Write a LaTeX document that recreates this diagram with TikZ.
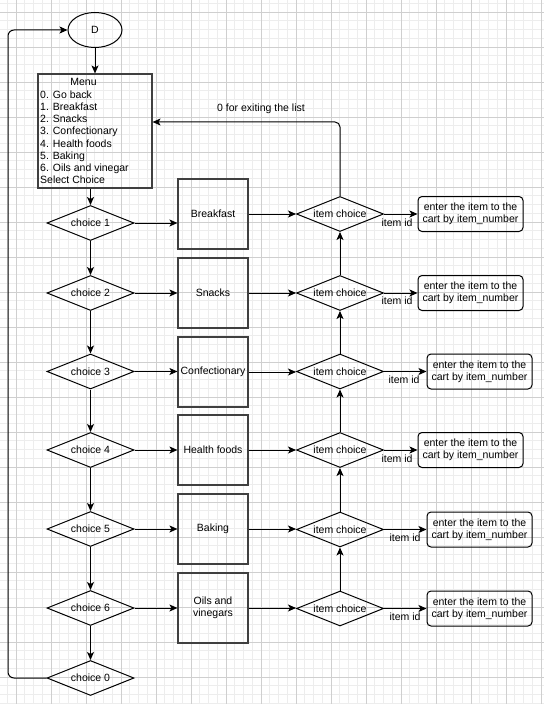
\documentclass[tikz,border=0pt]{standalone}
\usepackage{fontspec}
\setmainfont{Liberation Sans}
\usetikzlibrary{shapes.geometric,arrows.meta}
\tikzset{
  minorgrid/.style={draw=black!7, line width=0.8bp},
  majorgrid/.style={draw=black!19, line width=0.9bp},
  conn/.style={-{Stealth[length=8bp,width=7bp,inset=2bp]}, line width=1bp, draw=black},
  chc/.style={diamond, aspect=2.5, draw=black, line width=1bp, minimum width=87bp, minimum height=35bp, inner sep=0pt},
  catbox/.style={rectangle, draw=black!75, line width=1.15bp, minimum width=70bp, minimum height=70bp, align=center, inner sep=1pt},
  resbox/.style={rectangle, rounded corners=4bp, draw=black, line width=1bp, minimum width=105bp, minimum height=35bp, align=center, inner sep=1pt},
  lbl/.style={inner sep=0pt},
  menuline/.style={anchor=base west, inner sep=0pt}
}
\begin{document}
\begin{tikzpicture}[x=1bp,y=-1bp,font=\fontsize{10.5bp}{12.2bp}\selectfont]
\useasboundingbox (0,0) rectangle (544,704);
\fill[white] (0,0) rectangle (544,704);
\begin{scope}
\clip (0,0) rectangle (544,704);
\foreach \i in {-1,...,61} \draw[minorgrid] ({16+8.75*\i},0) -- ({16+8.75*\i},704);
\foreach \i in {-1,...,80} \draw[minorgrid] (0,{12+8.75*\i}) -- (544,{12+8.75*\i});
\foreach \i in {0,...,15} \draw[majorgrid] ({16+35*\i},0) -- ({16+35*\i},704);
\foreach \i in {0,...,19} \draw[majorgrid] (0,{12+35*\i}) -- (544,{12+35*\i});
\end{scope}

% start and menu
\node[ellipse, draw=black, line width=1bp, minimum width=54bp, minimum height=35bp, inner sep=0pt] (D) at (95,30) {D};
\node[rectangle, draw=black!75, line width=1.15bp, minimum width=114bp, minimum height=114bp] (menu) at (95,131) {};
\node[anchor=base, inner sep=0pt] (mtitle) at (83.5,86) {Menu};
\foreach \t [count=\i] in {0. Go back,1. Breakfast,2. Snacks,3. Confectionary,4. Health foods,5. Baking,6. Oils and vinegar,Select Choice}
  \node[menuline] (ml\i) at (40,{86+12.2*\i}) {\t};

% choices
\node[chc] (c1) at (90.5,223) {choice 1};
\node[chc] (c2) at (90.5,293) {choice 2};
\node[chc] (c3) at (90.5,371.5) {choice 3};
\node[chc] (c4) at (90.5,450) {choice 4};
\node[chc] (c5) at (90.5,529) {choice 5};
\node[chc] (c6) at (90.5,608) {choice 6};
\node[chc] (c0) at (90.5,678) {choice 0};

% categories
\node[catbox] (b1) at (213,214) {Breakfast};
\node[catbox] (b2) at (213,293) {Snacks};
\node[catbox] (b3) at (213,372) {Confectionary};
\node[catbox] (b4) at (213,450) {Health foods};
\node[catbox] (b5) at (213,529) {Baking};
\node[catbox] (b6) at (213,608) {Oils and\\vinegars};

% item choices
\node[chc] (ic1) at (340,214) {item choice};
\node[chc] (ic2) at (340,293) {item choice};
\node[chc] (ic3) at (340,371.5) {item choice};
\node[chc] (ic4) at (340,450) {item choice};
\node[chc] (ic5) at (340,529.5) {item choice};
\node[chc] (ic6) at (340,608.5) {item choice};

% results
\node[resbox] (r1) at (470.5,214) {enter the item to the\\cart by item\_number};
\node[resbox] (r2) at (470.5,293) {enter the item to the\\cart by item\_number};
\node[resbox] (r3) at (479.5,371.5) {enter the item to the\\cart by item\_number};
\node[resbox] (r4) at (470.5,450) {enter the item to the\\cart by item\_number};
\node[resbox] (r5) at (479.5,529.5) {enter the item to the\\cart by item\_number};
\node[resbox] (r6) at (479.5,608.5) {enter the item to the\\cart by item\_number};

% item id labels
\node[lbl] (l1) at (397,223) {item id};
\node[lbl] (l2) at (397,301) {item id};
\node[lbl] (l3) at (404,380) {item id};
\node[lbl] (l4) at (397,459) {item id};
\node[lbl] (l5) at (405,538) {item id};
\node[lbl] (l6) at (405,617) {item id};

% connectors
\draw[conn] (D.south) -- (menu.north);
\draw[conn] (menu.south -| c1.north) -- (c1.north);
\draw[conn] (c1.south) -- (c2.north);
\draw[conn] (c2.south) -- (c3.north);
\draw[conn] (c3.south) -- (c4.north);
\draw[conn] (c4.south) -- (c5.north);
\draw[conn] (c5.south) -- (c6.north);
\draw[conn] (c6.south) -- (c0.north);
\foreach \i in {1,...,6} {
  \draw[conn] (c\i.east) -- (c\i.east -| b\i.west);
  \draw[conn] (b\i.east) -- (b\i.east -| ic\i.west);
  \draw[conn] (ic\i.east) -- (ic\i.east -| r\i.west);
}
\foreach \i/\j in {2/1,3/2,4/3,5/4,6/5}
  \draw[conn] (ic\i.north) -- (ic\j.south);

\coordinate (exitc) at (340,122);
\draw[conn, rounded corners=5bp] (ic1.north) |- (menu.east |- exitc);
\node[lbl] (exitlbl) at (261,109) {0 for exiting the list};

\coordinate (loopc) at (8,30);
\draw[conn, rounded corners=6bp] (c0.west) -| (loopc) -- (D.west);
\end{tikzpicture}
\end{document}
